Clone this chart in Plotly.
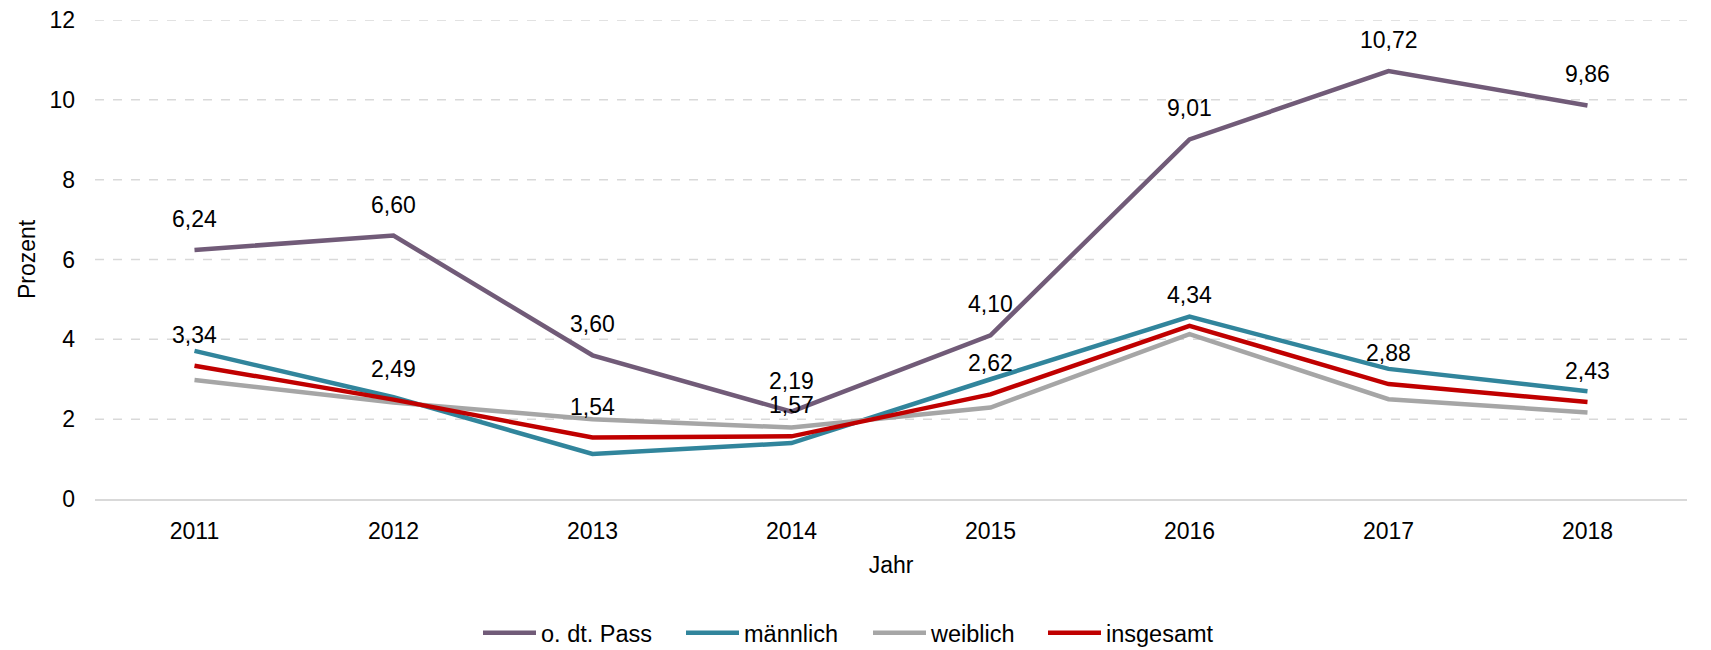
import plotly.graph_objects as go

# Anteil in Prozent nach Jahr
jahre = ["2011", "2012", "2013", "2014", "2015", "2016", "2017", "2018"]
ohne_dt_pass = [6.24, 6.60, 3.60, 2.19, 4.10, 9.01, 10.72, 9.86]
maennlich = [3.71, 2.55, 1.13, 1.40, 3.00, 4.57, 3.26, 2.70]
weiblich = [2.98, 2.42, 2.00, 1.79, 2.29, 4.13, 2.50, 2.17]
insgesamt = [3.34, 2.49, 1.54, 1.57, 2.62, 4.34, 2.88, 2.43]

y_ticks = [0, 2, 4, 6, 8, 10, 12]

FONT = "Liberation Sans, Arial, sans-serif"
FS = 23
GRID = "#D9D9D9"

# name, values, colour, width of the legend entry (px)
serien = [
    ("o. dt. Pass", ohne_dt_pass, "#715B78", 135),
    ("männlich", maennlich, "#31859C", 119),
    ("weiblich", weiblich, "#A6A6A6", 107),
    ("insgesamt", insgesamt, "#C00000", 122),
]

fig = go.Figure()

# Horizontal dashed grid lines (drawn below the data)
for t in y_ticks[1:]:
    fig.add_shape(type="line", xref="paper", yref="y", x0=0, x1=1, y0=t, y1=t,
                  line=dict(color=GRID, width=1.5, dash="dash"), layer="below")

for name, werte, farbe, lw in serien:
    fig.add_trace(go.Scatter(
        x=jahre, y=werte, name=name, mode="lines",
        line=dict(color=farbe, width=4.5),
        legendwidth=lw,
        hoverinfo="skip",
    ))

# Value labels for "o. dt. Pass" and "insgesamt" (x given as category index)
def fmt(v):
    return f"{v:.2f}".replace(".", ",")

for werte in (ohne_dt_pass, insgesamt):
    for i, v in enumerate(werte):
        fig.add_annotation(x=i, y=v, xref="x", yref="y", text=fmt(v), showarrow=False,
                           yshift=31, font=dict(family=FONT, size=FS, color="#000000"))

fig.update_layout(
    width=1711, height=650,
    margin=dict(l=95, r=24, t=20, b=151, autoexpand=False),
    paper_bgcolor="white", plot_bgcolor="white",
    font=dict(family=FONT, size=FS, color="#000000"),
    showlegend=True,
    legend=dict(orientation="h", xref="container", x=0.5, xanchor="center",
                yref="container", y=0.026, yanchor="middle",
                font=dict(family=FONT, size=23.5, color="#000000"),
                itemwidth=53, tracegroupgap=0),
    xaxis=dict(
        type="category", range=[-0.5, 7.5],
        showgrid=False, showline=True, linecolor=GRID, linewidth=2,
        ticks="", tickfont=dict(size=FS), ticklabelstandoff=10,
        title=dict(text="Jahr", font=dict(size=FS), standoff=14),
        zeroline=False,
    ),
    yaxis=dict(
        range=[0, 12], tickvals=y_ticks, ticktext=[str(t) for t in y_ticks],
        showgrid=False, zeroline=False, showline=False,
        ticks="", tickfont=dict(size=FS), ticklabelstandoff=19,
        title=dict(text="Prozent", font=dict(size=FS), standoff=7),
    ),
)

fig.write_html("out.html")
